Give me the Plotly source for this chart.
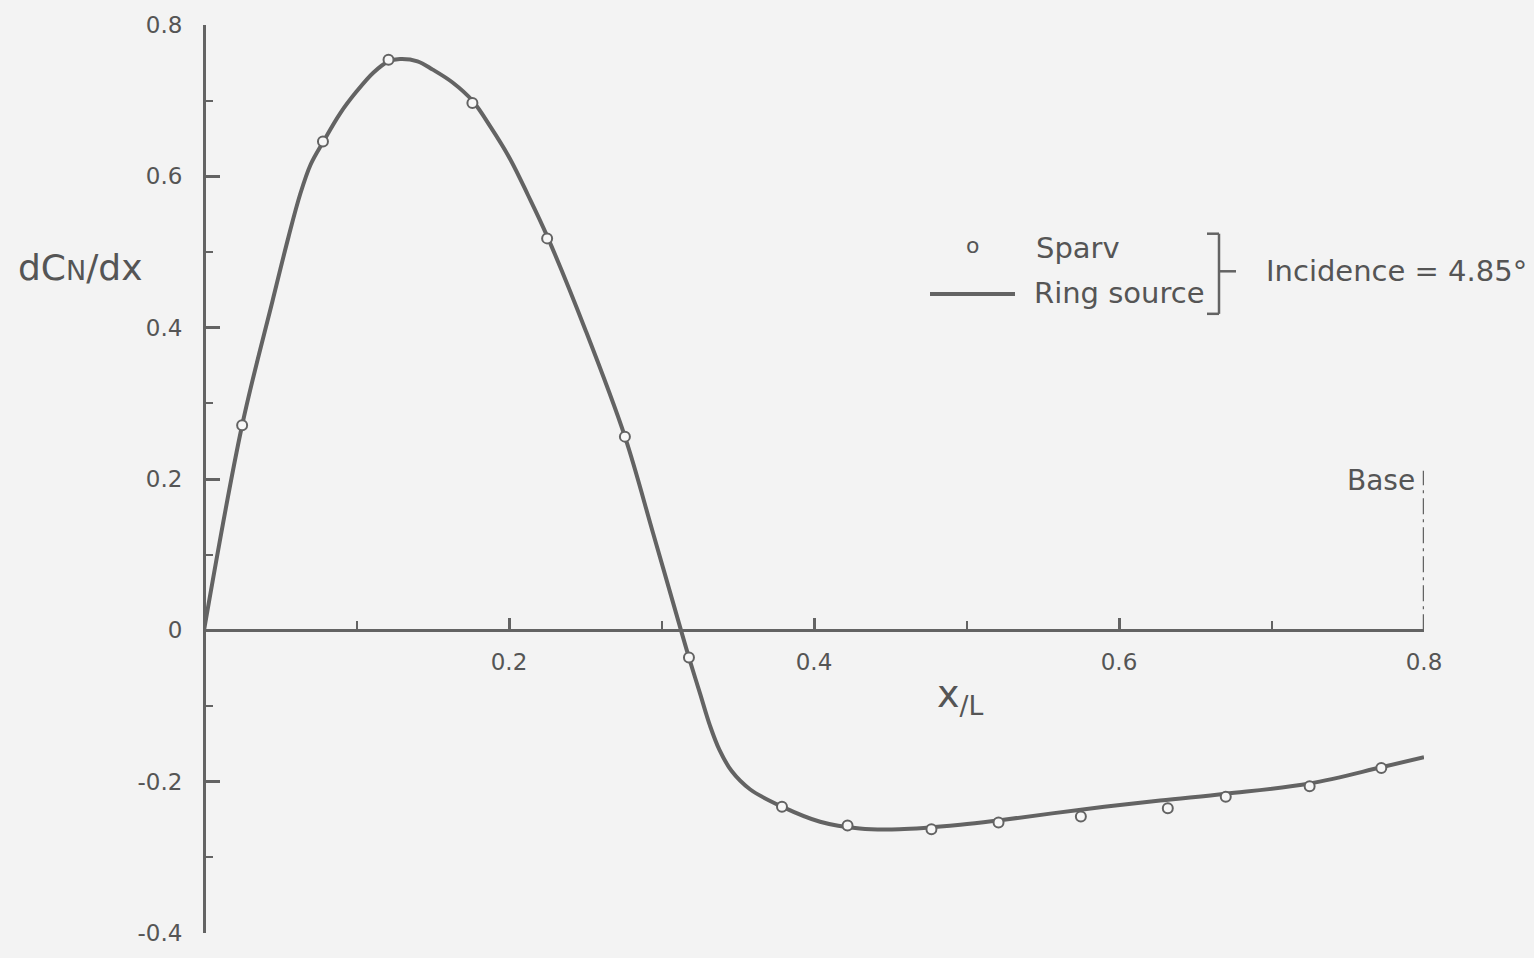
import plotly.graph_objects as go

# ---- data ----
sparv_x = [0.025, 0.078, 0.121, 0.176, 0.225, 0.276, 0.318, 0.379, 0.422,
           0.477, 0.521, 0.575, 0.632, 0.670, 0.725, 0.772]
sparv_y = [0.271, 0.646, 0.754, 0.697, 0.518, 0.256, -0.036, -0.233, -0.258,
           -0.263, -0.254, -0.246, -0.235, -0.220, -0.206, -0.182]

ring_x = [0.0, 0.025, 0.045, 0.0553, 0.063, 0.070, 0.078, 0.0892, 0.100, 0.111,
          0.121, 0.1285, 0.140, 0.150, 0.163, 0.176, 0.188, 0.2007, 0.2125, 0.225,
          0.2505, 0.276, 0.2944, 0.3128, 0.318, 0.3252, 0.3318, 0.338, 0.346, 0.358,
          0.379, 0.404, 0.430, 0.456, 0.496, 0.522, 0.575, 0.627, 0.670, 0.725,
          0.772, 0.800]
ring_y = [0.0, 0.271, 0.436, 0.519, 0.576, 0.616, 0.645, 0.683, 0.712, 0.737,
          0.752, 0.755, 0.752, 0.741, 0.724, 0.700, 0.665, 0.623, 0.575, 0.521,
          0.395, 0.256, 0.129, 0.0, -0.036, -0.083, -0.126, -0.158, -0.186, -0.210,
          -0.233, -0.253, -0.262, -0.263, -0.257, -0.251, -0.237, -0.225, -0.216, -0.2025,
          -0.181, -0.1676]

x_ticks = [0.2, 0.4, 0.6, 0.8]
x_ticktext = ["0.2", "0.4", "0.6", "0.8"]
x_minor = [0.1, 0.3, 0.5, 0.7]
y_ticks = [-0.4, -0.2, 0, 0.2, 0.4, 0.6, 0.8]
y_ticktext = ["-0.4", "-0.2", "0", "0.2", "0.4", "0.6", "0.8"]
y_minor = [-0.3, -0.1, 0.1, 0.3, 0.5, 0.7]
base_top = 0.211

INK = "#636363"
TXT = "#555555"
BG = "#f3f3f3"
FONT = "DejaVu Sans"

W, H = 1534, 958
L, R, T, B = 204, 110, 21, 19


def fx(px):
    return (px - L) / (W - L - R)


def fy(py):
    return (H - B - py) / (H - T - B)


fig = go.Figure()
fig.add_trace(go.Scatter(x=ring_x, y=ring_y, mode="lines",
                         line=dict(color=INK, width=4, shape="spline", smoothing=1.0),
                         showlegend=False, hoverinfo="skip"))
fig.add_trace(go.Scatter(x=sparv_x, y=sparv_y, mode="markers",
                         marker=dict(symbol="circle", size=10, color="#f7f7f7",
                                     line=dict(color=INK, width=2)),
                         cliponaxis=False, showlegend=False))

shapes = [
    # Base dash-dot line
    dict(type="line", xref="x", yref="y", x0=0.8, x1=0.8, y0=0, y1=base_top,
         line=dict(color=INK, width=2.5, dash="16px,5px,3px,5px")),
    # legend line sample
    dict(type="line", xref="paper", yref="paper", x0=fx(930), x1=fx(1015),
         y0=fy(293), y1=fy(293), line=dict(color=INK, width=4)),
    # bracket
    dict(type="line", xref="paper", yref="paper", x0=fx(1207), x1=fx(1219),
         y0=fy(232), y1=fy(232), line=dict(color=INK, width=2.5)),
    dict(type="line", xref="paper", yref="paper", x0=fx(1219), x1=fx(1219),
         y0=fy(232), y1=fy(313), line=dict(color=INK, width=2.5)),
    dict(type="line", xref="paper", yref="paper", x0=fx(1207), x1=fx(1219),
         y0=fy(313), y1=fy(313), line=dict(color=INK, width=2.5)),
    dict(type="line", xref="paper", yref="paper", x0=fx(1219), x1=fx(1236),
         y0=fy(270), y1=fy(270), line=dict(color=INK, width=2.5)),
]

ann = [
    dict(text="o", x=fx(972), y=fy(244), xanchor="center", yanchor="middle",
         font=dict(size=22, color=TXT, family=FONT)),
    dict(text="Sparv", x=fx(1034), y=fy(246), xanchor="left", yanchor="middle",
         font=dict(size=29, color=TXT, family=FONT)),
    dict(text="Ring source", x=fx(1032), y=fy(292), xanchor="left", yanchor="middle",
         font=dict(size=29, color=TXT, family=FONT)),
    dict(text="Incidence = 4.85°", x=fx(1264), y=fy(270), xanchor="left", yanchor="middle",
         font=dict(size=29, color=TXT, family=FONT)),
    dict(text="Base", x=fx(1417), y=fy(482), xanchor="right", yanchor="middle",
         font=dict(size=28, color=TXT, family=FONT)),
    dict(text="dC<span style='font-size:27px'>N</span>/dx", x=fx(16), y=fy(266),
         xanchor="left", yanchor="middle", font=dict(size=36, color=TXT, family=FONT)),
    dict(text="x<sub>/L</sub>", x=fx(960), y=fy(700), xanchor="center", yanchor="middle",
         font=dict(size=38, color=TXT, family=FONT)),
]
for a in ann:
    a.update(xref="paper", yref="paper", showarrow=False)

fig.update_layout(
    width=W, height=H,
    margin=dict(l=L, r=R, t=T, b=B, pad=0),
    paper_bgcolor=BG, plot_bgcolor=BG,
    shapes=shapes, annotations=ann,
    showlegend=False,
    xaxis=dict(range=[0, 0.8], anchor="free", position=1/3,
               showline=True, linecolor=INK, linewidth=3,
               showgrid=False, zeroline=False,
               ticks="inside", ticklen=11, tickwidth=2.5, tickcolor=INK,
               tickvals=x_ticks, ticktext=x_ticktext, ticklabelstandoff=10,
               tickfont=dict(size=23, color=TXT, family=FONT),
               minor=dict(tickvals=x_minor, ticks="inside", ticklen=8,
                          tickwidth=2, tickcolor=INK, showgrid=False)),
    yaxis=dict(range=[-0.4, 0.8], anchor="free", position=0,
               showline=True, linecolor=INK, linewidth=3,
               showgrid=False, zeroline=False,
               ticks="inside", ticklen=14, tickwidth=2.5, tickcolor=INK,
               tickvals=y_ticks, ticktext=y_ticktext, ticklabelstandoff=16,
               tickfont=dict(size=23, color=TXT, family=FONT),
               minor=dict(tickvals=y_minor, ticks="inside", ticklen=7,
                          tickwidth=2, tickcolor=INK, showgrid=False)),
)

fig.write_html("out.html")
